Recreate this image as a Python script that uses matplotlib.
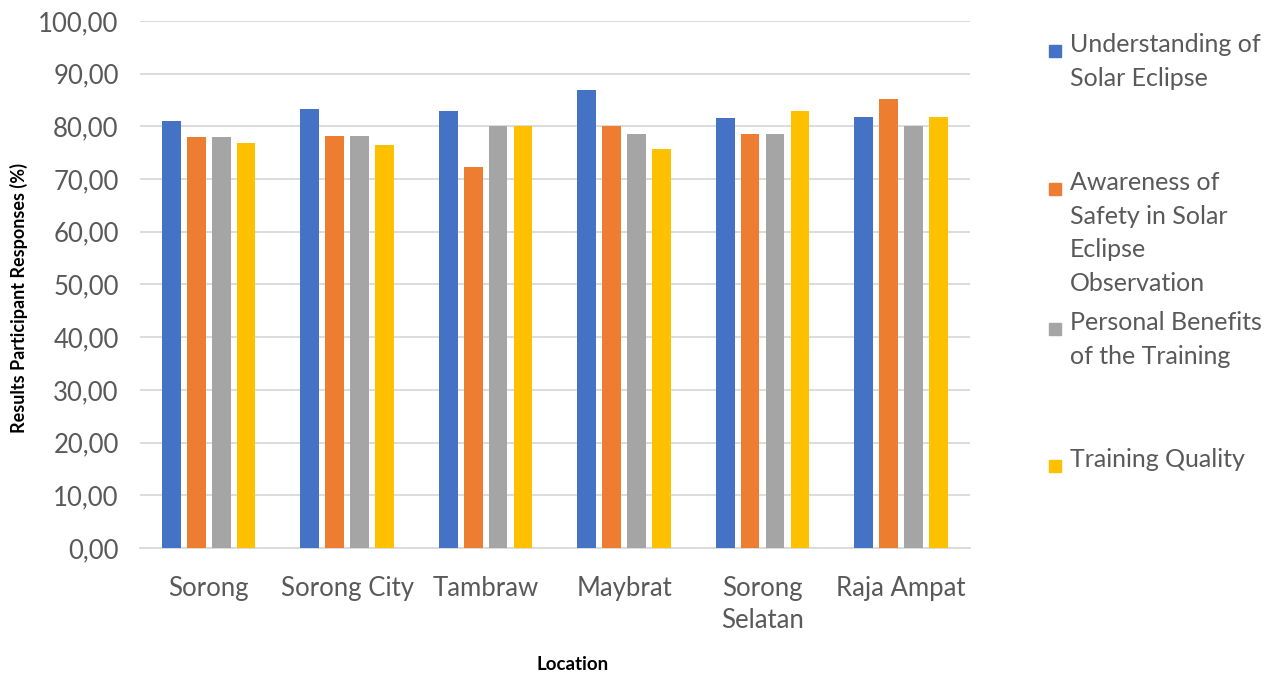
import matplotlib
matplotlib.use("Agg")
import matplotlib.pyplot as plt
import numpy as np
from matplotlib.patches import Rectangle
from matplotlib.ticker import FuncFormatter

plt.rcParams["font.family"] = ["Lato", "DejaVu Sans"]

locations = ["Sorong", "Sorong City", "Tambraw", "Maybrat", "Sorong\nSelatan", "Raja Ampat"]
series_names = [
    "Understanding of\nSolar Eclipse",
    "Awareness of\nSafety in Solar\nEclipse\nObservation",
    "Personal Benefits\nof the Training",
    "Training Quality",
]
understanding = [81.0, 83.3, 83.0, 86.9, 81.6, 81.8]
awareness = [78.0, 78.2, 72.3, 80.0, 78.6, 85.2]
benefits = [78.0, 78.2, 80.0, 78.6, 78.6, 80.0]
quality = [76.9, 76.5, 80.0, 75.7, 83.0, 81.8]
colors = ["#4472C4", "#ED7D31", "#A5A5A5", "#FFC000"]

text_grey = "#595959"

fig = plt.figure(figsize=(12.8, 6.77), dpi=100)
ax = fig.add_axes([0.109, 0.1906, 0.649, 0.7784])

x = np.arange(len(locations))
step = 0.18
width = 0.135
all_series = [understanding, awareness, benefits, quality]
for i, (vals, c) in enumerate(zip(all_series, colors)):
    ax.bar(x + (i - 1.5) * step, vals, width=width, color=c, zorder=3)

ax.set_xlim(-0.5, len(locations) - 0.5)
ax.set_ylim(0, 100)
ax.set_yticks(np.arange(0, 101, 10))
ax.yaxis.set_major_formatter(FuncFormatter(lambda v, p: f"{v:.2f}".replace(".", ",")))
ax.grid(axis="y", color="#d9d9d9", linewidth=1.3, zorder=0)
for s in ["top", "right", "left"]:
    ax.spines[s].set_visible(False)
ax.spines["bottom"].set_color("#d9d9d9")
ax.spines["bottom"].set_linewidth(1.3)
ax.tick_params(axis="both", length=0, colors=text_grey, labelsize=18.5)
ax.tick_params(axis="y", pad=15)
ax.tick_params(axis="x", pad=20)
ax.set_xticks(x)
ax.set_xticklabels(locations, linespacing=1.35)

fig.text(0.447, 0.006, "Location", ha="center", va="bottom", fontsize=13.5, fontweight="bold")
fig.text(0.015, 0.56, "Results Participant Responses (%)", rotation=90,
         ha="center", va="center", fontsize=13, fontweight="bold")

# legend drawn by hand so entries keep even spacing
legend_tops = [0.951, 0.747, 0.540, 0.338]
for name, c, top in zip(series_names, colors, legend_tops):
    fig.patches.append(Rectangle((0.8195, top - 0.035), 0.0095, 0.018,
                                 transform=fig.transFigure, color=c))
    fig.text(0.836, top, name, ha="left", va="top", fontsize=18,
             color=text_grey, linespacing=1.55)

fig.savefig("out.png", dpi=100, facecolor="white")
